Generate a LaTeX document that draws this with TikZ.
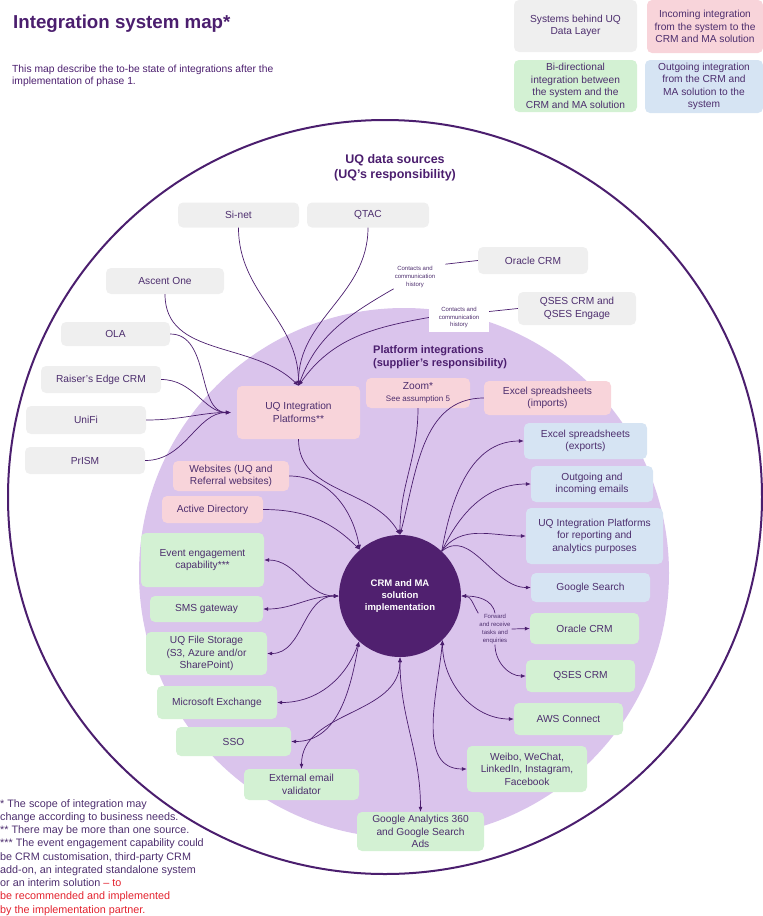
\documentclass[tikz,border=0pt]{standalone}
\usepackage{fontspec}
\setmainfont{Liberation Sans}
\usepackage{xcolor}
\usepackage{tikz}
\usetikzlibrary{arrows.meta}

\definecolor{plum}{HTML}{4B1E6E}
\definecolor{ink}{HTML}{4D2E6E}
\definecolor{lilac}{HTML}{DAC4EC}
\definecolor{greybox}{HTML}{EFEFEF}
\definecolor{pinkbox}{HTML}{F8D4DA}
\definecolor{greenbox}{HTML}{D3F1D3}
\definecolor{bluebox}{HTML}{D6E4F3}
\definecolor{hubfill}{HTML}{50206F}
\definecolor{notered}{HTML}{E3222E}

\begin{document}
\begin{tikzpicture}[x=1pt,y=1pt,font=\fontsize{10.2}{12.5}\selectfont,
 box/.style={rounded corners=5pt,align=center,text=ink,inner sep=1pt},
 src/.style={box,fill=greybox},
 incoming/.style={box,fill=pinkbox},
 bidir/.style={box,fill=greenbox},
 outgoing/.style={box,fill=bluebox},
 note/.style={align=center,text=ink,font=\fontsize{6}{7.8}\selectfont,inner sep=1pt},
 link/.style={draw=plum,line width=.7pt},
 arrow/.style={link,-{Latex[length=5pt,width=4pt]}},
 both/.style={link,{Latex[length=5pt,width=4pt]}-{Latex[length=5pt,width=4pt]}}]

\useasboundingbox (0,0) rectangle (763,-916);

% rings
\draw[plum,line width=2pt] (385,-497) circle[radius=377pt];
\fill[lilac] (404,-573) circle[radius=265pt];

% heading and legend
\node[anchor=base west,inner sep=0,text=plum,font=\bfseries\fontsize{18.7}{22}\selectfont] (title) at (13,-28) {Integration system map*};
\node[anchor=north west,inner sep=0,align=left,text=plum,font=\fontsize{10.3}{12}\selectfont] (intro) at (12,-64.5) {This map describe the to-be state of integrations after the\\implementation of phase 1.};

\node[src,minimum width=123pt,minimum height=52pt] (legsrc) at (575.5,-26) {Systems behind UQ\\Data Layer};
\node[incoming,minimum width=116pt,minimum height=53pt] (legin) at (705,-26.5) {Incoming integration\\from the system to the\\CRM and MA solution};
\node[bidir,minimum width=123pt,minimum height=52pt] (legboth) at (575.5,-86) {Bi-directional\\integration between\\the system and the\\CRM and MA solution};
\node[outgoing,minimum width=118pt,minimum height=53pt] (legout) at (704,-86.5) {Outgoing integration\\from the CRM and\\MA solution to the\\system};

\node[align=center,text=plum,font=\bfseries\fontsize{12.5}{14.5}\selectfont] (uqhead) at (395,-168) {UQ data sources\\(UQ's responsibility)};
\node[anchor=west,inner sep=0,align=left,text=plum,font=\bfseries\fontsize{11}{13}\selectfont] (plathead) at (373,-357) {Platform integrations\\(supplier's responsibility)};

% UQ data sources
\node[src,minimum width=121pt,minimum height=25pt] (sinet) at (238.5,-215) {Si-net};
\node[src,minimum width=122pt,minimum height=25pt] (qtac) at (368,-215) {QTAC};
\node[src,minimum width=110pt,minimum height=27pt] (oracleuq) at (533,-260.5) {Oracle CRM};
\node[src,minimum width=118pt,minimum height=33pt] (qsesuq) at (577,-308.5) {QSES CRM and\\QSES Engage};
\node[src,minimum width=118pt,minimum height=26pt] (ascent) at (165,-281) {Ascent One};
\node[src,minimum width=109pt,minimum height=24pt] (ola) at (115.5,-334) {OLA};
\node[src,minimum width=120pt,minimum height=27pt] (raiser) at (101,-379.5) {Raiser's Edge CRM};
\node[src,minimum width=120pt,minimum height=28pt] (unifi) at (86,-420) {UniFi};
\node[src,minimum width=120pt,minimum height=27pt] (prism) at (85,-460.5) {PrISM};

\node[note] (contact1) at (415,-277) {Contacts and\\communication\\history};
\node[note,fill=white,minimum width=60pt,minimum height=29pt] (contact2) at (459,-317.5) {Contacts and\\communication\\history};

% platform integrations
\node[incoming,minimum width=123pt,minimum height=53pt] (uqip) at (298.5,-412.5) {UQ Integration\\Platforms**};
\node[incoming,minimum width=116pt,minimum height=30pt] (websites) at (231,-476) {Websites (UQ and\\Referral websites)};
\node[incoming,minimum width=101pt,minimum height=27pt] (activedir) at (212.5,-509.5) {Active Directory};
\node[incoming,minimum width=104pt,minimum height=30pt] (zoom) at (418,-393) {Zoom*\\{\fontsize{8}{9}\selectfont See assumption 5}};
\node[incoming,minimum width=127pt,minimum height=34pt] (xlsin) at (547.5,-398) {Excel spreadsheets\\(imports)};

\node[outgoing,minimum width=123pt,minimum height=36pt] (xlsout) at (585.5,-441) {Excel spreadsheets\\(exports)};
\node[outgoing,minimum width=122pt,minimum height=36pt] (emails) at (592,-484) {Outgoing and\\incoming emails};
\node[outgoing,minimum width=137pt,minimum height=56pt] (reporting) at (594.5,-536) {UQ Integration Platforms\\for reporting and\\analytics purposes};
\node[outgoing,minimum width=119pt,minimum height=29pt] (gsearch) at (590.5,-587.5) {Google Search};

\node[bidir,minimum width=109pt,minimum height=31pt] (oraclecrm) at (584.5,-628.5) {Oracle CRM};
\node[bidir,minimum width=109pt,minimum height=32pt] (qsescrm) at (580.5,-676) {QSES CRM};
\node[bidir,minimum width=109pt,minimum height=32pt] (aws) at (568.5,-719) {AWS Connect};
\node[bidir,minimum width=120pt,minimum height=46pt] (weibo) at (527,-769) {Weibo, WeChat,\\LinkedIn, Instagram,\\Facebook};

\node[bidir,minimum width=123pt,minimum height=54pt] (event) at (202.5,-560) {Event engagement\\capability***};
\node[bidir,minimum width=113pt,minimum height=26pt] (sms) at (206.5,-609) {SMS gateway};
\node[bidir,minimum width=121pt,minimum height=43pt] (files) at (206.5,-653.5) {UQ File Storage\\(S3, Azure and/or\\SharePoint)};
\node[bidir,minimum width=120pt,minimum height=33pt] (exchange) at (217,-702.5) {Microsoft Exchange};
\node[bidir,minimum width=115pt,minimum height=29pt] (sso) at (233.5,-741.5) {SSO};
\node[bidir,minimum width=115pt,minimum height=31pt] (emailval) at (301.5,-784.5) {External email\\validator};
\node[bidir,minimum width=127pt,minimum height=39pt] (analytics) at (420.5,-831.5) {Google Analytics 360\\and Google Search\\Ads};

\node[circle,fill=hubfill,minimum size=122pt,text=white,align=center,font=\bfseries\fontsize{9.5}{12}\selectfont] (crm) at (400,-596) {CRM and MA\\solution\\implementation};
\node[note] (forward) at (495,-629) {Forward\\and receive\\tasks and\\enquiries};

% into the UQ platforms
\draw[arrow] (sinet.south) to[out=-90,in=90] (uqip.north);
\draw[arrow] (qtac.south) to[out=-90,in=90] (uqip.north);
\draw[link,shorten >=9pt] (oracleuq.west) -- (contact1.north east);
\draw[arrow] (contact1.south west) to[out=-150,in=70] (uqip.north);
\draw[link] (qsesuq.west) -- ([yshift=6pt]contact2.east);
\draw[arrow] (contact2.west) to[out=190,in=55] (uqip.north);
\draw[arrow] (ascent.south) to[out=-90,in=135] (uqip.north);
\draw[arrow,shorten >=6pt] (ola.east) to[out=0,in=180] (uqip.west);
\draw[arrow,shorten >=6pt] (raiser.east) to[out=0,in=180] (uqip.west);
\draw[arrow,shorten >=6pt] (unifi.east) to[out=0,in=180] (uqip.west);
\draw[arrow,shorten >=6pt] (prism.east) to[out=0,in=180] (uqip.west);

% into the CRM
\draw[arrow] (uqip.south) to[out=-90,in=120] (crm.north);
\draw[arrow] (zoom.south) to[out=-90,in=90] (crm.north);
\draw[arrow] (xlsin.west) to[out=180,in=75] (crm.north);
\draw[arrow] (websites.east) to[out=0,in=100] (crm.131);
\draw[arrow] (activedir.east) to[out=0,in=135] (crm.131);

% both ways
\draw[both] (event.east) to[out=0,in=180] (crm.west);
\draw[both] (sms.east) to[out=0,in=180] (crm.west);
\draw[both] (files.east) to[out=0,in=180] (crm.west);
\draw[both] (exchange.east) to[out=0,in=250] (crm.228);
\draw[both] (sso.east) to[out=0,in=260] (crm.228);
\draw[both] (emailval.north) to[out=90,in=-90] (crm.south);
\draw[both] (analytics.north) to[out=90,in=-90] (crm.south);
\draw[both] (aws.west) to[out=180,in=-90] (crm.-46);
\draw[both] (weibo.west) to[out=180,in=-95] (crm.-46);

% out of the CRM
\draw[arrow] (crm.47) to[out=80,in=180] (xlsout.west);
\draw[arrow] (crm.47) to[out=65,in=180] (emails.west);
\draw[arrow] (crm.47) to[out=55,in=180] (reporting.west);
\draw[arrow] (crm.47) to[out=40,in=180] (gsearch.west);

% partner tasks
\draw[arrow] (forward.north) to[out=100,in=0] (crm.east);
\draw[arrow] (forward.north west) to[out=120,in=0] (crm.east);
\draw[arrow] (forward.east) -- (oraclecrm.west);
\draw[arrow] (forward.south) to[out=-90,in=180] (qsescrm.west);

% footnotes
\node[anchor=north west,inner sep=0,align=left,text=ink,font=\fontsize{10.8}{13.25}\selectfont] (notes) at (0,-799) {* The scope of integration may\\change according to business needs.\\** There may be more than one source.\\*** The event engagement capability could\\be CRM customisation, third-party CRM\\add-on, an integrated standalone system\\or an interim solution \textcolor{notered}{– to}\\\textcolor{notered}{be recommended and implemented}\\\textcolor{notered}{by the implementation partner.}};
\end{tikzpicture}
\end{document}
